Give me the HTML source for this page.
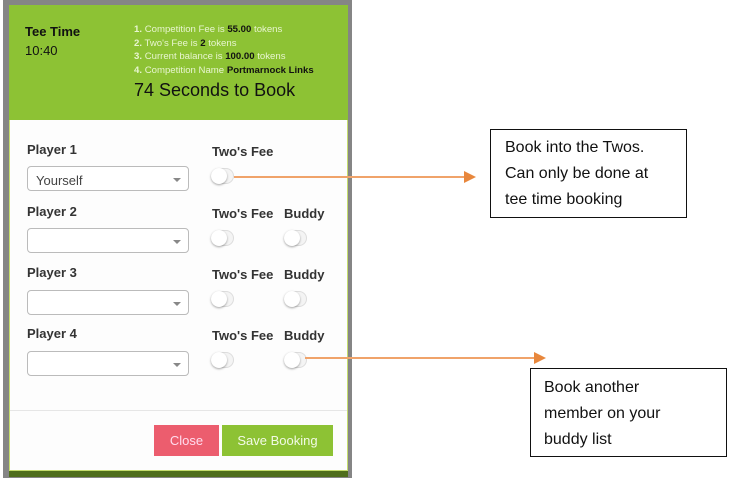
<!DOCTYPE html>
<html><head><meta charset="utf-8"><style>
*{margin:0;padding:0;box-sizing:border-box}
body{width:734px;height:489px;background:#fff;position:relative;overflow:hidden;font-family:"Liberation Sans",sans-serif}
.a{position:absolute}
.frame{left:3px;top:0;width:349px;height:478px;background:#858585}
.modal{left:9px;top:5px;width:339px;height:466px;background:#fdfdfd;border:1px solid #c4dc6c}
.hdr{left:9px;top:5px;width:339px;height:115px;background:#8dc234}
.bot{left:9px;top:471px;width:339px;height:6px;background:#4f6e1c}
.lbl{font-weight:bold;font-size:13px;color:#333}
.sel{width:162px;height:25px;border:1px solid #bbb;border-radius:4px;background:#fff;font-size:13px;color:#444;padding:6px 0 0 8px}
.sel:after{content:"";position:absolute;right:7px;top:11px;border-left:4px solid transparent;border-right:4px solid transparent;border-top:4px solid #888}
.tg{width:23px;height:16px;border-radius:8px;border:1px solid #ddd;background:#f4f4f4}
.tg:before{content:"";position:absolute;left:-1px;top:-1px;width:16px;height:16px;border-radius:50%;background:#fff;box-shadow:0 1px 2px rgba(0,0,0,.35)}
.box{border:1.5px solid #111;background:#fff;font-family:"Liberation Sans",sans-serif;font-size:16px;line-height:26px;color:#111}
.ln{height:1.5px;background:#f0a36a}
.ah{width:0;height:0;border-top:6px solid transparent;border-bottom:6px solid transparent;border-left:12px solid #e8873c}
.w{color:#e8f5d0}
</style></head><body>
<div class="a frame"></div>
<div class="a modal"></div>
<div class="a hdr"></div>
<div class="a bot"></div>
<div class="a" style="left:25px;top:24px;font-weight:bold;font-size:13px;color:#111">Tee Time</div>
<div class="a" style="left:25px;top:43px;font-size:13px;color:#111">10:40</div>
<div class="a" style="left:134px;top:23px;font-size:9.6px;line-height:13.7px;color:#111;white-space:nowrap">
<div><b class="w">1.</b> <span class="w">Competition Fee is</span> <b>55.00</b> <span class="w">tokens</span></div>
<div><b class="w">2.</b> <span class="w">Two's Fee is</span> <b>2</b> <span class="w">tokens</span></div>
<div><b class="w">3.</b> <span class="w">Current balance is</span> <b>100.00</b> <span class="w">tokens</span></div>
<div><b class="w">4.</b> <span class="w">Competition Name</span> <b>Portmarnock Links</b></div>
</div>
<div class="a" style="left:134px;top:80px;font-size:18px;color:#111">74 Seconds to Book</div>

<div class="a lbl" style="left:27px;top:142px">Player 1</div>
<div class="a lbl" style="left:212px;top:144px">Two's Fee</div>
<div class="a sel" style="left:27px;top:166px">Yourself</div>
<div class="a tg" style="left:211px;top:168px"></div>

<div class="a lbl" style="left:27px;top:204px">Player 2</div>
<div class="a lbl" style="left:212px;top:206px">Two's Fee</div>
<div class="a lbl" style="left:284px;top:206px">Buddy</div>
<div class="a sel" style="left:27px;top:228px"></div>
<div class="a tg" style="left:211px;top:230px"></div>
<div class="a tg" style="left:284px;top:230px"></div>

<div class="a lbl" style="left:27px;top:265px">Player 3</div>
<div class="a lbl" style="left:212px;top:267px">Two's Fee</div>
<div class="a lbl" style="left:284px;top:267px">Buddy</div>
<div class="a sel" style="left:27px;top:290px"></div>
<div class="a tg" style="left:211px;top:291px"></div>
<div class="a tg" style="left:284px;top:291px"></div>

<div class="a lbl" style="left:27px;top:326px">Player 4</div>
<div class="a lbl" style="left:212px;top:328px">Two's Fee</div>
<div class="a lbl" style="left:284px;top:328px">Buddy</div>
<div class="a sel" style="left:27px;top:351px"></div>
<div class="a tg" style="left:211px;top:352px"></div>
<div class="a tg" style="left:284px;top:352px"></div>

<div class="a" style="left:10px;top:410px;width:337px;height:1px;background:#e6e6e6"></div>
<div class="a" style="left:154px;top:425px;width:65px;height:31px;background:#ec5d6e;color:#fde;font-size:13px;text-align:center;line-height:31px">Close</div>
<div class="a" style="left:222px;top:425px;width:111px;height:31px;background:#8dc234;color:#f2fae6;font-size:13px;text-align:center;line-height:31px">Save Booking</div>

<div class="a ln" style="left:234px;top:176px;width:230px"></div>
<div class="a ah" style="left:464px;top:171px"></div>
<div class="a ln" style="left:305px;top:357px;width:229px"></div>
<div class="a ah" style="left:534px;top:352px"></div>

<div class="a box" style="left:490px;top:129px;width:197px;height:89px;padding:5px 0 0 14px">Book into the Twos.<br>Can only be done at<br>tee time booking</div>
<div class="a box" style="left:530px;top:368px;width:197px;height:89px;padding:6px 0 0 13px">Book another<br>member on your<br>buddy list</div>
</body></html>
